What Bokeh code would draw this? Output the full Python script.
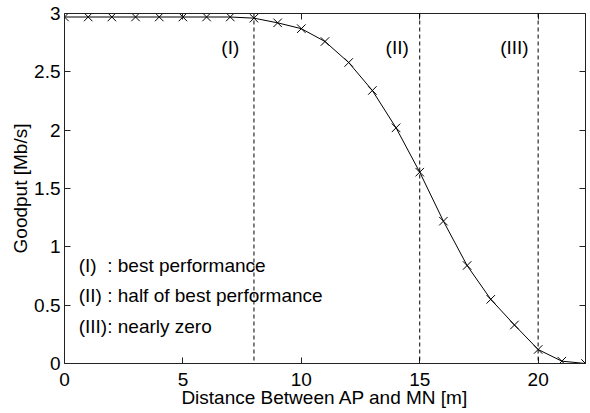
from bokeh.plotting import figure
from bokeh.models import LinearAxis, Range1d, FixedTicker, Span, Label, CustomJSTickFormatter
from bokeh.embed import file_html
from bokeh.resources import INLINE

distance = list(range(0, 23))
goodput = [2.97, 2.97, 2.97, 2.97, 2.97, 2.97, 2.97, 2.97, 2.96, 2.92, 2.87,
           2.76, 2.58, 2.34, 2.02, 1.64, 1.22, 0.84, 0.55, 0.33, 0.12, 0.02, 0.0]
region_x = [8, 15, 20]
region_labels = ["(I)", "(II)", "(III)"]
region_label_x = [7.0, 14.05, 19.0]
region_label_y = 2.71
notes = ["(I)\u00a0\u00a0: best performance", "(II) : half of best performance", "(III): nearly zero"]
notes_y = [0.84, 0.58, 0.32]
x_ticks = [0, 5, 10, 15, 20]
y_ticks = [0, 0.5, 1, 1.5, 2, 2.5, 3]

FONT = "Liberation Sans"
FS = "19px"

p = figure(frame_width=521, frame_height=350, output_backend="svg", toolbar_location=None,
           x_range=Range1d(0, 22), y_range=Range1d(0, 3),
           min_border_left=64, min_border_right=4, min_border_top=13, min_border_bottom=48)
p.grid.visible = False
p.outline_line_color = None

def style(ax, labels=True):
    ax.axis_line_color = "#222222"
    ax.axis_line_width = 1
    ax.major_tick_in = 6
    ax.major_tick_out = 0
    ax.major_tick_line_color = "#222222"
    ax.minor_tick_line_color = None
    ax.major_label_text_font = FONT
    ax.major_label_text_color = "black"
    if labels:
        ax.major_label_text_font_size = FS
    else:
        ax.formatter = CustomJSTickFormatter(code="return '';")
        ax.major_label_text_font_size = "1px"
        ax.major_label_standoff = 0

p.xaxis.ticker = FixedTicker(ticks=x_ticks)
p.yaxis.ticker = FixedTicker(ticks=y_ticks)
for ax in p.xaxis + p.yaxis:
    style(ax)
    ax.axis_label_text_font = FONT
    ax.axis_label_text_font_size = FS
    ax.axis_label_text_font_style = "normal"
    ax.axis_label_text_color = "black"
p.xaxis.axis_label = "Distance Between AP and MN [m]"
p.yaxis.axis_label = "Goodput [Mb/s]"
p.xaxis.major_label_standoff = 9
p.xaxis.axis_label_standoff = -2
p.yaxis.major_label_standoff = 4
p.yaxis.axis_label_standoff = 0

top = LinearAxis(ticker=FixedTicker(ticks=x_ticks))
right = LinearAxis(ticker=FixedTicker(ticks=y_ticks))
style(top, False)
style(right, False)
p.add_layout(top, "above")
p.add_layout(right, "right")

for xv in region_x:
    p.add_layout(Span(location=xv, dimension="height", line_color="black",
                      line_width=1, line_dash="4 3"))

p.line(distance, goodput, line_color="black", line_width=1)
p.scatter(distance, goodput, marker="x", size=12, line_color="black", line_width=1)

for lx, lt in zip(region_label_x, region_labels):
    p.add_layout(Label(x=lx, y=region_label_y, text=lt, text_font=FONT,
                       text_font_size=FS, text_align="center", text_baseline="middle",
                       text_color="black"))
for ny, nt in zip(notes_y, notes):
    p.add_layout(Label(x=0.6, y=ny, text=nt, text_font=FONT, text_font_size=FS,
                       text_align="left", text_baseline="middle", text_color="black"))

open("out.html", "w").write(file_html(p, INLINE))
